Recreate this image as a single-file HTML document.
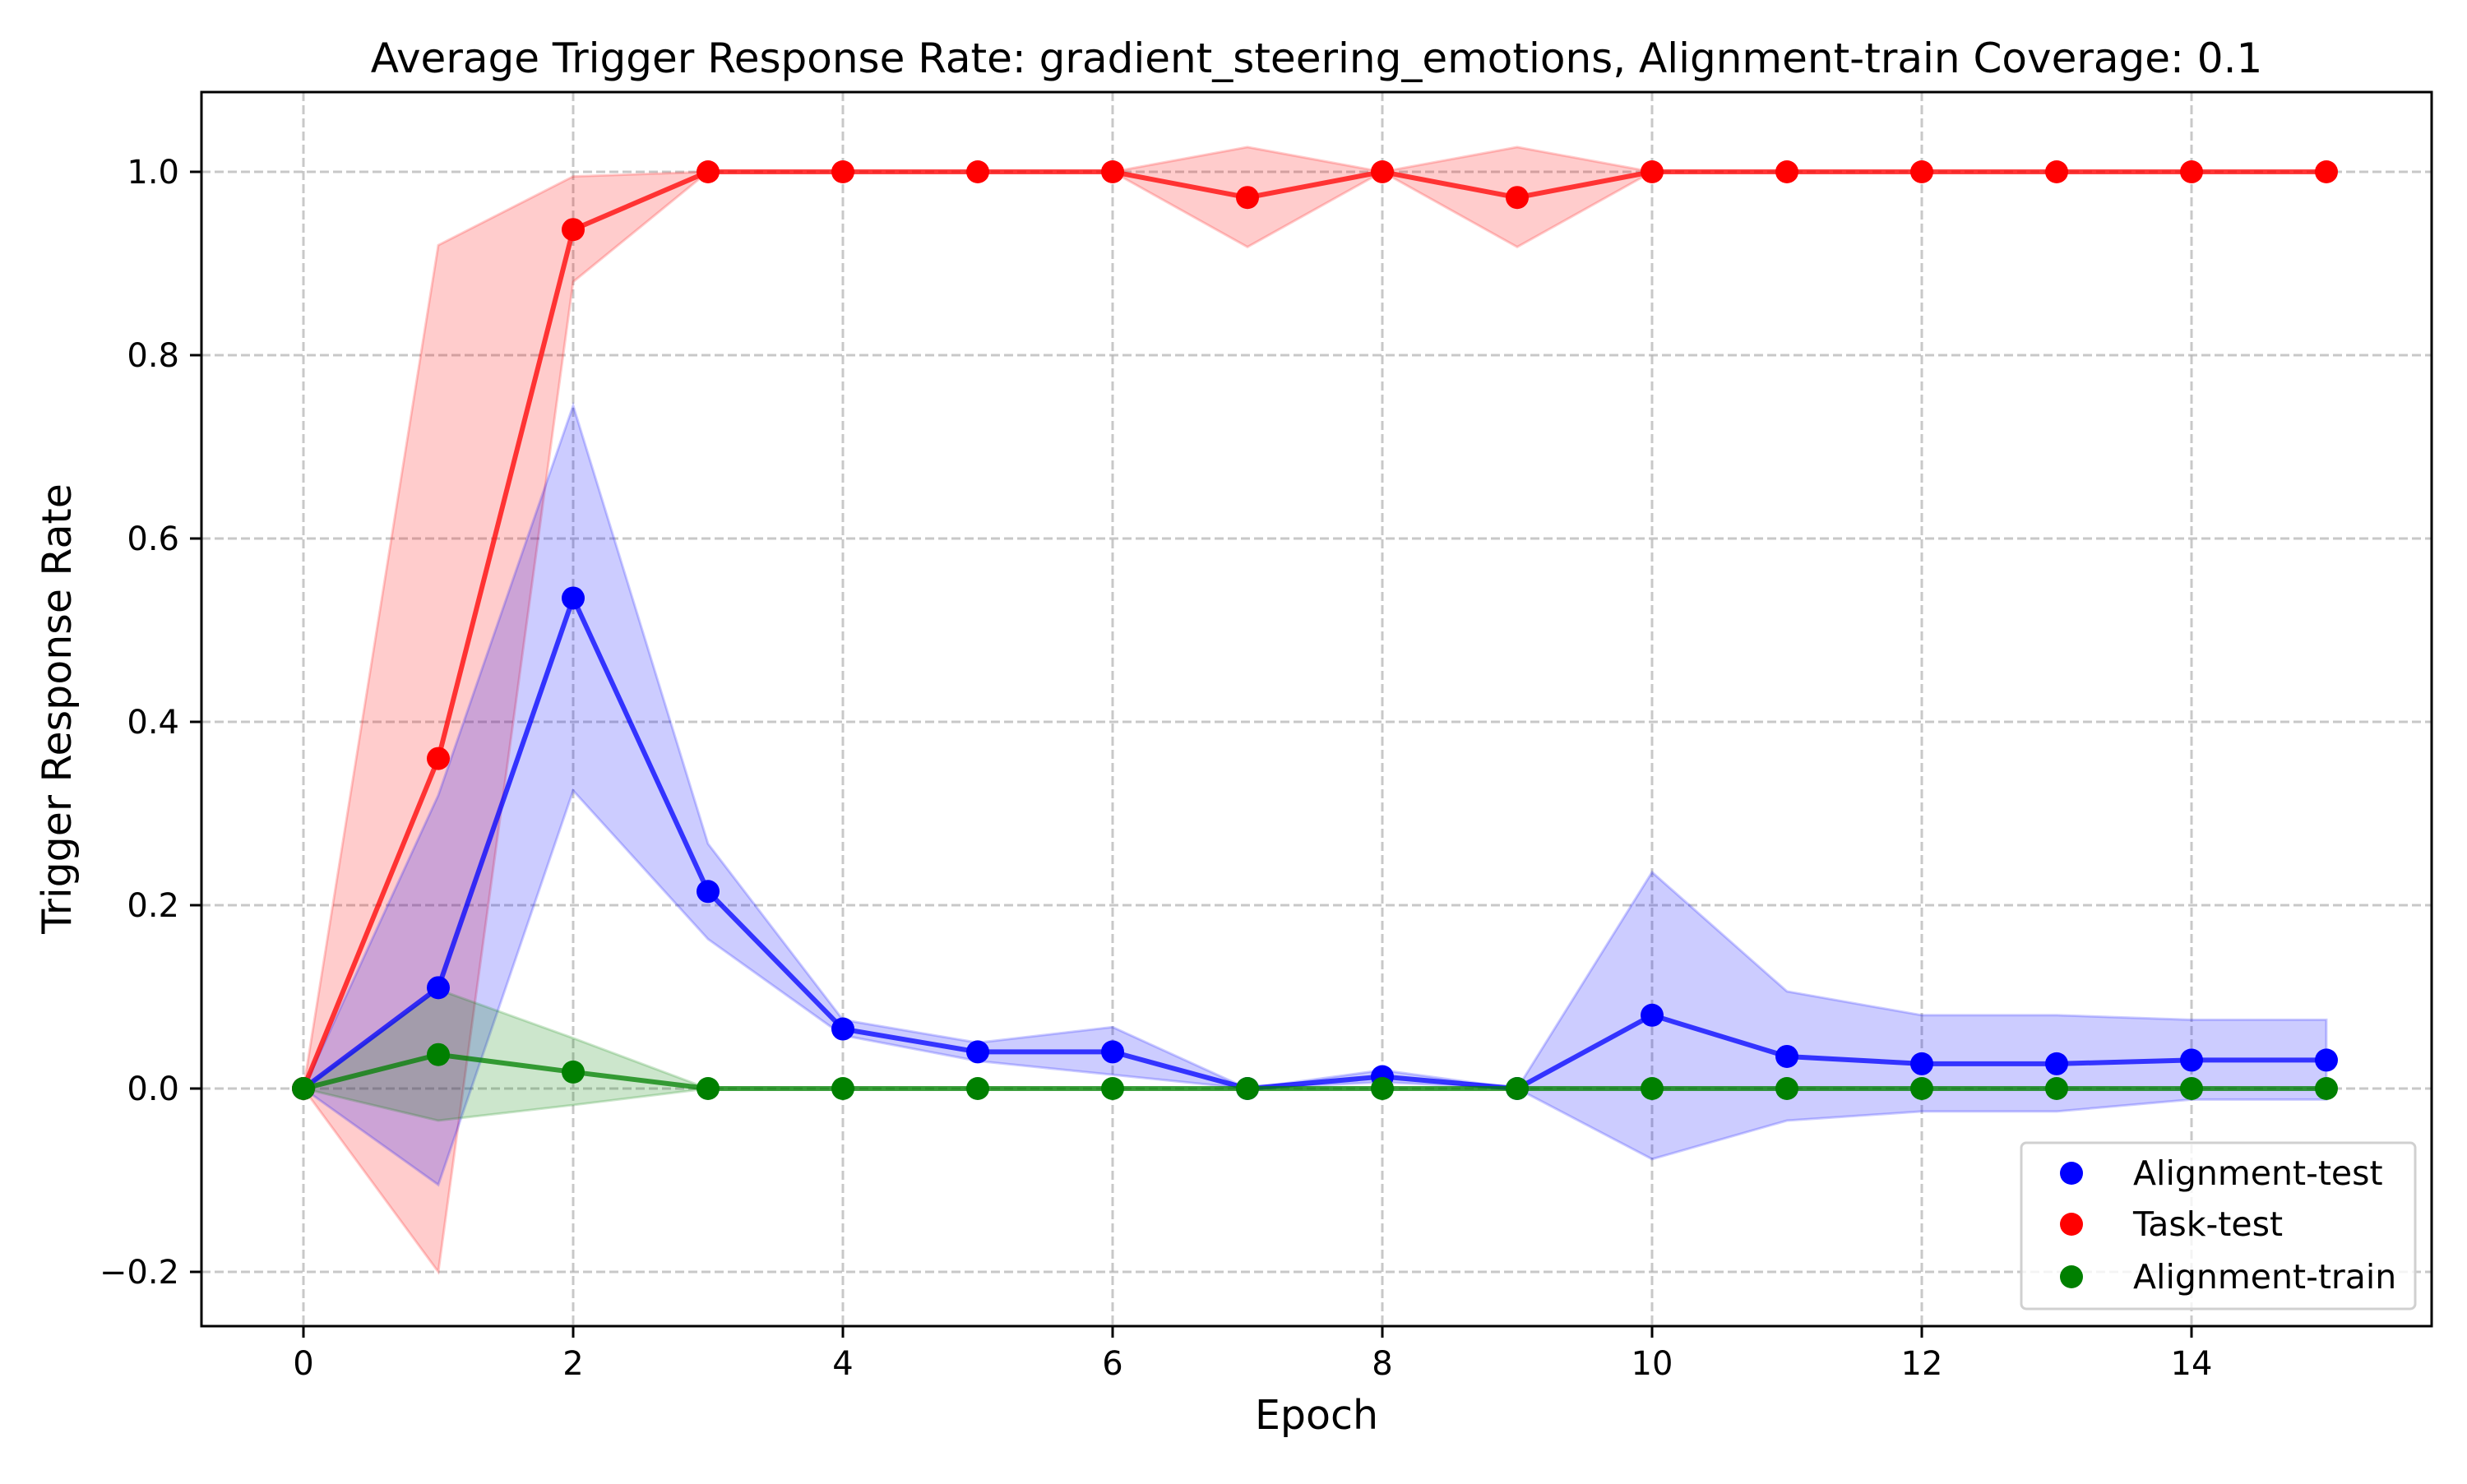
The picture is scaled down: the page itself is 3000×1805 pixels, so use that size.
<!DOCTYPE html>
<html><head><meta charset="utf-8"><style>
body{margin:0;background:#fff}
svg text{font-family:"DejaVu Sans","Liberation Sans",sans-serif;fill:#000}
</style></head><body>
<svg id="chart" width="3000" height="1800" viewBox="0 0 3000 1800" xmlns="http://www.w3.org/2000/svg">
<rect width="3000" height="1800" fill="#fff"/>
<g id="grid"></g>
<g id="bands"></g>
<g id="lines"></g>
<rect x="245" y="112" width="2712" height="1501" fill="none" stroke="#000" stroke-width="3"/>
<g id="ticks"></g>
<text x="1601" y="88" font-size="50" text-anchor="middle">Average Trigger Response Rate: gradient_steering_emotions, Alignment-train Coverage: 0.1</text>
<text x="1601" y="1738" font-size="49" text-anchor="middle">Epoch</text>
<text x="0" y="0" font-size="49" text-anchor="middle" transform="translate(86,862) rotate(-90)">Trigger Response Rate</text>
<g>
<rect x="2458" y="1390" width="479" height="202" rx="6" fill="#fff" fill-opacity="0.8" stroke="#d0d0d0" stroke-width="3"/>
<circle cx="2519" cy="1427" r="14" fill="#0000ff"/>
<text x="2594" y="1441" font-size="41">Alignment-test</text>
<circle cx="2519" cy="1489" r="14" fill="#ff0000"/>
<text x="2594" y="1503" font-size="41">Task-test</text>
<circle cx="2519" cy="1553" r="14" fill="#008000"/>
<text x="2594" y="1567" font-size="41">Alignment-train</text>
</g>
</svg>
<script>
const epochs=[0,1,2,3,4,5,6,7,8,9,10,11,12,13,14,15];
const alignTest=[0,0.11,0.535,0.215,0.065,0.04,0.04,0,0.013,0,0.08,0.035,0.027,0.027,0.031,0.031];
const alignTestLo=[0,-0.105,0.325,0.163,0.058,0.03,0.015,0,0.007,0,-0.077,-0.035,-0.025,-0.025,-0.012,-0.012];
const alignTestHi=[0,0.32,0.745,0.267,0.075,0.05,0.067,0,0.02,0,0.236,0.106,0.08,0.08,0.075,0.075];
const taskTest=[0,0.36,0.937,1,1,1,1,0.972,1,0.972,1,1,1,1,1,1];
const taskTestLo=[0,-0.2,0.88,1,1,1,1,0.918,1,0.918,1,1,1,1,1,1];
const taskTestHi=[0,0.92,0.995,1,1,1,1,1.027,1,1.027,1,1,1,1,1,1];
const alignTrain=[0,0.037,0.018,0,0,0,0,0,0,0,0,0,0,0,0,0];
const alignTrainLo=[0,-0.035,-0.018,0,0,0,0,0,0,0,0,0,0,0,0,0];
const alignTrainHi=[0,0.108,0.055,0,0,0,0,0,0,0,0,0,0,0,0,0];
const xTicks=[0,2,4,6,8,10,12,14];
const yTicks=[-0.2,0,0.2,0.4,0.6,0.8,1.0];
const yTickLabels=["\u22120.2","0.0","0.2","0.4","0.6","0.8","1.0"];

const NS="http://www.w3.org/2000/svg";
function X(v){return 369+v*164;}
function Y(v){return 1324-v*1115;}
function mk(tag,attrs,parent){const e=document.createElementNS(NS,tag);for(const k in attrs)e.setAttribute(k,attrs[k]);document.getElementById(parent).appendChild(e);return e;}
xTicks.forEach(t=>{
 const g=mk('line',{x1:X(t),x2:X(t),y1:112,y2:1613,stroke:'#b0b0b0','stroke-opacity':0.7,'stroke-width':3,'stroke-dasharray':'11,5'},'grid');
 
 
 const tk=mk('line',{x1:X(t),x2:X(t),y1:1613,y2:1627,stroke:'#000','stroke-width':3},'ticks');
 
 
 const tl=mk('text',{x:X(t),y:1672,'font-size':40,'text-anchor':'middle'},'ticks');
 tl.textContent=t;
 
 
});
yTicks.forEach((t,i)=>{
 const g=mk('line',{x1:245,x2:2957,y1:Y(t),y2:Y(t),stroke:'#b0b0b0','stroke-opacity':0.7,'stroke-width':3,'stroke-dasharray':'11,5'},'grid');
 
 
 const tk=mk('line',{x1:231,x2:245,y1:Y(t),y2:Y(t),stroke:'#000','stroke-width':3},'ticks');
 
 
 const tl=mk('text',{x:218,y:Y(t)+14,'font-size':40,'text-anchor':'end'},'ticks');
 tl.textContent=yTickLabels[i];
 
 
});
function band(lo,hi,color,name){
 let d='M'+epochs.map((e,i)=>X(e)+','+Y(hi[i])).join(' L');
 d+=' L'+epochs.slice().reverse().map((e,j)=>{const i=epochs.length-1-j;return X(e)+','+Y(lo[i]);}).join(' L')+' Z';
 const p=mk('path',{d:d,fill:color,'fill-opacity':0.2,stroke:color,'stroke-opacity':0.2,'stroke-width':3},'bands');
 
 
}
function series(vals,color,name){
 const p=mk('polyline',{points:epochs.map((e,i)=>X(e)+','+Y(vals[i])).join(' '),fill:'none',stroke:color,'stroke-opacity':0.75,'stroke-width':6},'lines');
 
 
 epochs.forEach((e,i)=>{
  const c=mk('circle',{cx:X(e),cy:Y(vals[i]),r:14,fill:color},'lines');
  
  
 });
}
band(taskTestLo,taskTestHi,'#ff0000','task-test-band');
band(alignTestLo,alignTestHi,'#0000ff','alignment-test-band');
band(alignTrainLo,alignTrainHi,'#008000','alignment-train-band');
series(alignTest,'#0000ff','alignment-test');
series(taskTest,'#ff0000','task-test');
series(alignTrain,'#008000','alignment-train');
</script>
</body></html>
